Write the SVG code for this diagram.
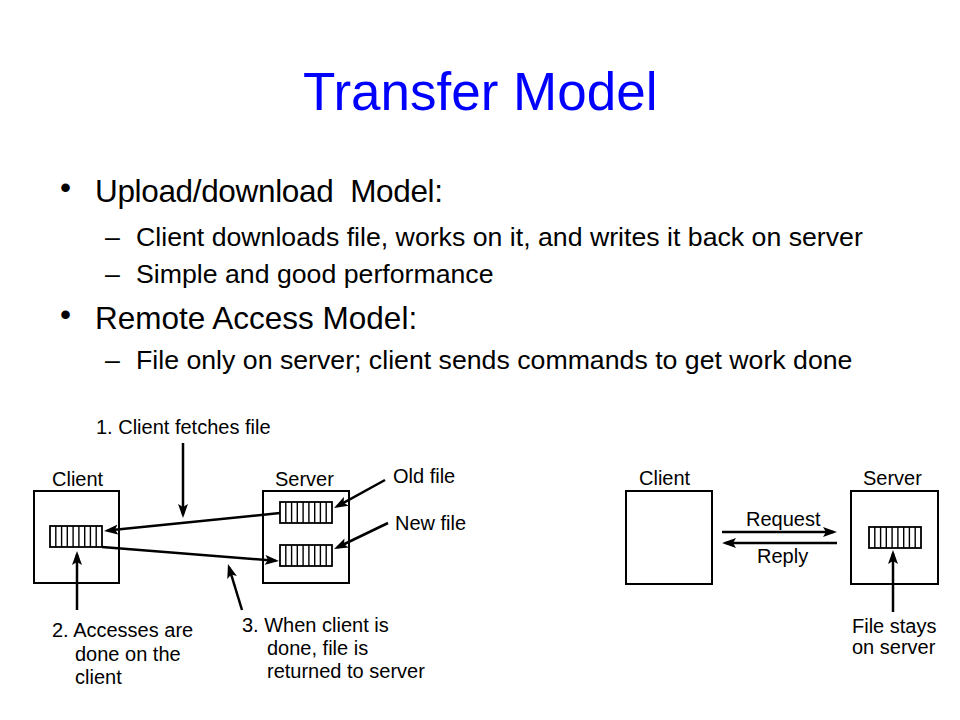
<svg xmlns="http://www.w3.org/2000/svg" width="960" height="720" viewBox="0 0 960 720">
<defs>
<style>
.title{font-family:"Liberation Sans",Arial,sans-serif;font-size:53px;fill:#0000FF}
.l1{font-family:"Liberation Sans",Arial,sans-serif;font-size:31.5px;fill:#000}
.l2{font-family:"Liberation Sans",Arial,sans-serif;font-size:26.7px;fill:#000}
.lab{font-family:"Liberation Sans",Arial,sans-serif;font-size:20px;fill:#000}
.box{fill:#fff;stroke:#000;stroke-width:2}
.file{fill:#fff;stroke:#000;stroke-width:1.8}
.stripe{stroke:#000;stroke-width:1.4}
.conn{fill:none;stroke:#000;stroke-width:2.5;marker-end:url(#ah)}
</style>
<marker id="ah" markerUnits="userSpaceOnUse" viewBox="0 0 14 10" markerWidth="14" markerHeight="10" refX="10.5" refY="5" orient="auto">
<path d="M0,0 L14,5 L0,10 L3,5 z" fill="#000"/>
</marker>
<g id="fileicon">
<rect class="file" x="0" y="0" width="52" height="21"/>
<path class="stripe" d="M5.8,0V21M11.6,0V21M17.3,0V21M23.1,0V21M28.9,0V21M34.7,0V21M40.4,0V21M46.2,0V21"/>
</g>
</defs>
<rect width="960" height="720" fill="#fff"/>

<g id="title"><text class="title" x="303" y="110">Transfer Model</text></g>

<g id="bullets">
<text class="l1" x="60" y="198">•</text>
<text class="l1" x="95" y="202" xml:space="preserve" textLength="348" lengthAdjust="spacing">Upload/download  Model:</text>
<text class="l2" x="105" y="246">–</text>
<text class="l2" x="136" y="246">Client downloads file, works on it, and writes it back on server</text>
<text class="l2" x="105" y="283">–</text>
<text class="l2" x="136" y="283">Simple and good performance</text>
<text class="l1" x="60" y="325">•</text>
<text class="l1" x="95" y="329">Remote Access Model:</text>
<text class="l2" x="105" y="369">–</text>
<text class="l2" x="136" y="369">File only on server; client sends commands to get work done</text>
</g>

<g id="ud-client">
<rect class="box" x="34" y="491" width="85" height="92"/>
<use href="#fileicon" x="50" y="526"/>
<text class="lab" x="52" y="486">Client</text>
</g>
<g id="ud-server">
<rect class="box" x="263" y="491" width="86" height="92"/>
<use href="#fileicon" x="280" y="502"/>
<use href="#fileicon" x="280" y="545"/>
<text class="lab" x="275" y="486">Server</text>
</g>
<g id="ud-labels">
<text class="lab" x="96" y="434">1. Client fetches file</text>
<text class="lab" x="393" y="483">Old file</text>
<text class="lab" x="395" y="530">New file</text>
<text class="lab" x="52" y="637">2. Accesses are</text>
<text class="lab" x="75" y="661">done on the</text>
<text class="lab" x="75" y="684">client</text>
<text class="lab" x="242" y="632">3. When client is</text>
<text class="lab" x="267" y="655">done, file is</text>
<text class="lab" x="267" y="678">returned to server</text>
</g>

<g id="ra-client">
<rect class="box" x="626" y="491" width="86" height="93"/>
<text class="lab" x="639" y="485">Client</text>
</g>
<g id="ra-server">
<rect class="box" x="851" y="491" width="87" height="93"/>
<use href="#fileicon" x="869" y="527"/>
<text class="lab" x="863" y="485">Server</text>
</g>
<g id="ra-labels">
<text class="lab" x="746" y="526">Request</text>
<text class="lab" x="757" y="563">Reply</text>
<text class="lab" x="852" y="633">File stays</text>
<text class="lab" x="852" y="654">on server</text>
</g>

<g id="connectors">
<line class="conn" x1="280" y1="513" x2="107.5" y2="530.6"/>
<line class="conn" x1="102" y1="547" x2="275.5" y2="560.7"/>
<line class="conn" x1="183" y1="443" x2="183" y2="514.5"/>
<line class="conn" x1="77" y1="610" x2="77" y2="554.5"/>
<line class="conn" x1="242" y1="610" x2="229" y2="567.4"/>
<line class="conn" x1="385" y1="480" x2="337.1" y2="506.3"/>
<line class="conn" x1="388" y1="523" x2="337.2" y2="547.5"/>
<line class="conn" x1="722" y1="532" x2="833.5" y2="532"/>
<line class="conn" x1="837" y1="543" x2="725.5" y2="543"/>
<line class="conn" x1="893" y1="612" x2="893" y2="553.5"/>
</g>
</svg>
